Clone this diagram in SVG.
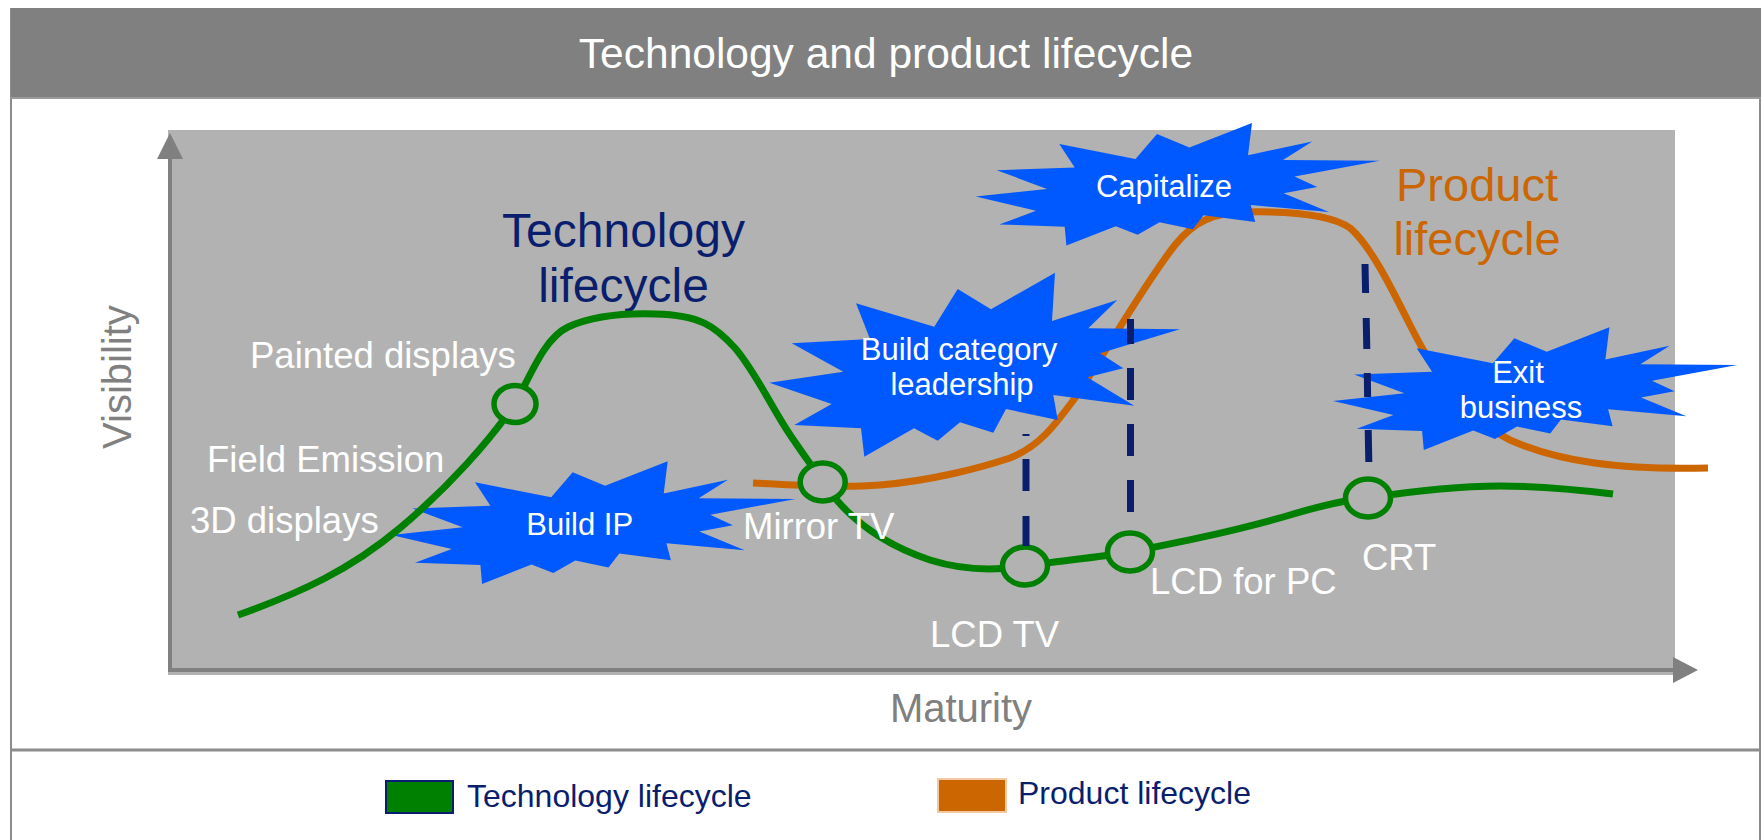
<svg xmlns="http://www.w3.org/2000/svg" xmlns:xlink="http://www.w3.org/1999/xlink" width="1763" height="840" viewBox="0 0 1763 840">
<style>
  text { font-family: "Liberation Sans", Arial, sans-serif; }
  .title { font-size: 42.5px; fill: #ffffff; text-anchor: middle; }
  .axis-label { font-size: 40px; fill: #808080; text-anchor: middle; }
  .item { font-size: 36.5px; fill: #ffffff; }
  .star-text { font-size: 31px; fill: #ffffff; text-anchor: middle; }
  .heading-tech { font-size: 48px; fill: #0a1e6e; text-anchor: middle; }
  .heading-prod { font-size: 47px; fill: #cc6600; text-anchor: middle; }
  .legend-text { font-size: 32px; fill: #0a1e6e; }
  .axis { stroke: #808080; stroke-width: 4; fill: none; }
  .tech { stroke: #008000; stroke-width: 7; fill: none; stroke-linejoin: round; }
  .prod { stroke: #cc6600; stroke-width: 7; fill: none; stroke-linejoin: round; }
  .milestone { stroke: #008000; stroke-width: 5.5; fill: #b2b2b2; }
  .dash { stroke: #0a1e6e; stroke-width: 7; fill: none; }
  .burst { fill: #0059ff; }
</style>
<defs>
  <polygon id="burst" points="-104.7,-42 -28.5,-27 -7,-52 25.4,-38.5 88,-63 84,-30.8 148.3,-44.6 119,-26 215.8,-25.2 130.6,-9.6 153.2,1 119.6,7.2 165,26 86.7,19 91.2,36 39.6,29.3 28.8,43.3 -4.4,36.3 -26.4,48.7 -48.2,40.3 -97.6,59.6 -99.3,40.8 -164.7,38.4 -128,24.8 -188.3,10.6 -117,2.9 -167.3,-15.8 -89.3,-18.6"/>
</defs>

<!-- frame -->
<g id="frame">
  <rect x="0" y="0" width="1763" height="840" fill="#ffffff"/>
  <line x1="11" y1="8" x2="11" y2="840" stroke="#8c8c8c" stroke-width="2"/>
  <line x1="1760" y1="8" x2="1760" y2="840" stroke="#8c8c8c" stroke-width="2"/>
  <line x1="11" y1="750" x2="1761" y2="750" stroke="#8c8c8c" stroke-width="3"/>
</g>

<g id="header">
  <rect x="11" y="8" width="1750" height="90" fill="#808080"/>
  <line x1="11" y1="98" x2="1761" y2="98" stroke="#9a9a9a" stroke-width="2"/>
  <text class="title" x="886" y="68">Technology and product lifecycle</text>
</g>

<!-- plot area -->
<g id="plot">
  <rect x="168" y="130" width="1507" height="545" fill="#b2b2b2"/>
  <line class="axis" x1="170" y1="670" x2="170" y2="156"/>
  <polygon points="170,133 157,159 183,159" fill="#808080"/>
  <line class="axis" x1="168" y1="670" x2="1676" y2="670"/>
  <polygon points="1698,670 1673,657 1673,683" fill="#808080"/>
  <text class="axis-label" x="961" y="722">Maturity</text>
  <text class="axis-label" transform="translate(131,377) rotate(-90)">Visibility</text>
  <text class="heading-tech" x="623.5" y="247">Technology</text>
  <text class="heading-tech" x="623.5" y="302">lifecycle</text>
  <text class="heading-prod" x="1477" y="201">Product</text>
  <text class="heading-prod" x="1477" y="255">lifecycle</text>
</g>

<!-- connectors: lifecycle curves -->
<g id="connectors">
  <path id="product-curve" class="prod" d="M753,483 C800,485 840,488 880,485 C930,481 980,468 1010,458 C1040,446 1055,425 1075,398 C1100,362 1140,290 1175,245 C1195,220 1215,213 1245,212 C1290,211 1330,214 1350,228 C1370,245 1390,285 1410,325 C1440,385 1470,420 1510,440 C1560,462 1620,470 1708,468"/>
</g>

<!-- action bursts -->
<g id="burst-build-ip">
  <use xlink:href="#burst" href="#burst" class="burst" transform="translate(579.7,524.3)"/>
  <text class="star-text" x="579.7" y="535">Build IP</text>
</g>
<g id="burst-build-category">
  <polygon class="burst" points="856,303.3 934.3,326.7 957.7,289 991,309.3 1055,272.7 1052,321 1117.3,300 1088.3,328.3 1180,329.3 1100,353.3 1123.3,368.3 1087.3,377.3 1134.3,405.7 1053.3,395 1057.7,420 1006,409 993.3,432.7 960,422.3 937.7,440.7 914,428.3 864.3,456.7 861,428.3 794.3,425 831.7,404 769.3,382.7 843.3,371.7 791.7,343.3 870,339"/>
  <text class="star-text" x="959" y="360">Build category</text>
  <text class="star-text" x="962" y="395">leadership</text>
</g>
<g id="burst-capitalize">
  <use xlink:href="#burst" href="#burst" class="burst" transform="translate(1164,186)"/>
  <text class="star-text" x="1164" y="197">Capitalize</text>
</g>
<g id="burst-exit">
  <use xlink:href="#burst" href="#burst" class="burst" transform="translate(1521.4,390.3)"/>
  <text class="star-text" x="1518" y="383">Exit</text>
  <text class="star-text" x="1521" y="418">business</text>
</g>

<g id="connectors-tech">
  <path id="technology-curve" class="tech" d="M238,615 C300,593 350,570 400,528 C450,486 490,440 515,404 C532,372 545,338 568,327 C595,315 625,313 655,314 C700,315 715,326 735,348 C758,375 775,415 795,442 C805,457 815,470 822,481 C840,508 870,540 930,560 C965,571 1000,570 1025,566 C1060,561 1100,557 1130,552 C1190,540 1240,530 1290,515 C1320,506 1345,500 1368,498 C1420,490 1460,486 1500,486 C1540,486 1580,490 1613,494"/>
</g>

<!-- milestone nodes -->
<g id="node-painted-displays">
  <ellipse class="milestone" cx="515" cy="404" rx="21" ry="18.5"/>
  <text class="item" x="250" y="368">Painted displays</text>
</g>
<g id="node-field-emission">
  <text class="item" x="207" y="472">Field Emission</text>
</g>
<g id="node-3d-displays">
  <text class="item" x="190" y="533">3D displays</text>
</g>
<g id="node-mirror-tv">
  <ellipse class="milestone" cx="822.7" cy="482" rx="22.5" ry="19"/>
  <text class="item" x="743" y="539">Mirror TV</text>
</g>
<g id="node-lcd-tv">
  <ellipse class="milestone" cx="1025" cy="566" rx="22.5" ry="19"/>
  <text class="item" x="930" y="647">LCD TV</text>
</g>
<g id="node-lcd-pc">
  <ellipse class="milestone" cx="1130" cy="552" rx="22.5" ry="19"/>
  <text class="item" x="1150" y="594">LCD for PC</text>
</g>
<g id="node-crt">
  <ellipse class="milestone" cx="1368" cy="498" rx="22.5" ry="19"/>
  <text class="item" x="1362" y="570">CRT</text>
</g>

<!-- dashed drop lines -->
<g id="connectors-dashed">
  <path class="dash" d="M1026,434 V436 M1026,459 V491 M1026,516 V546"/>
  <path class="dash" d="M1130.5,319 V344 M1130.5,368 V400 M1130.5,424 V456 M1130.5,480 V512"/>
  <path class="dash" d="M1365,264 L1365.6,293 M1366.2,318 L1366.8,349 M1367.3,373 L1367.6,397 M1368.2,430 L1368.8,462"/>
</g>

<!-- legend -->
<g id="legend">
  <g id="legend-tech">
    <rect x="386" y="781" width="67" height="32" fill="#008000" stroke="#0a1e6e" stroke-width="2"/>
    <text class="legend-text" x="467" y="807">Technology lifecycle</text>
  </g>
  <g id="legend-prod">
    <rect x="938" y="779" width="68" height="33" fill="#cc6600" stroke="#f2c9a2" stroke-width="2"/>
    <text class="legend-text" x="1018" y="804">Product lifecycle</text>
  </g>
</g>
</svg>
